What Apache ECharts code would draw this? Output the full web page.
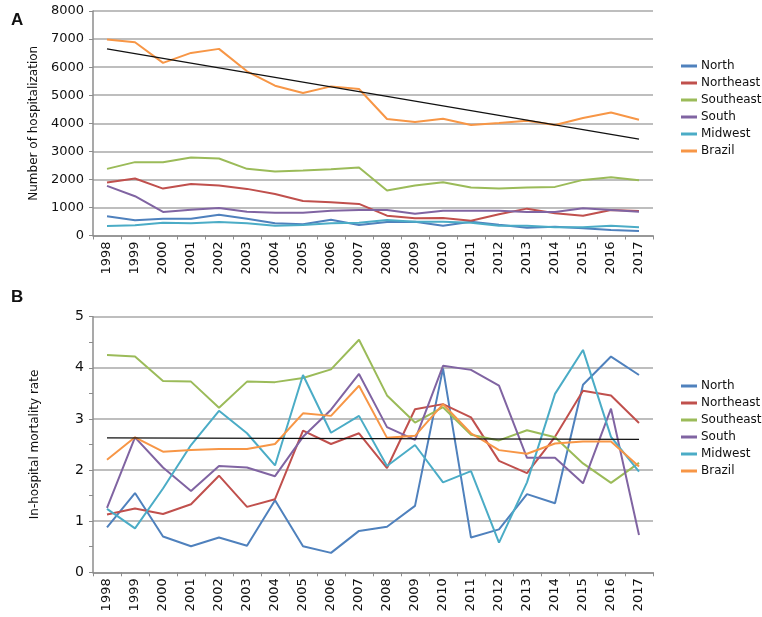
<!DOCTYPE html>
<html>
<head>
<meta charset="utf-8">
<script src="https://cdn.jsdelivr.net/npm/echarts@6/dist/echarts.min.js"></script>
<style>html,body{margin:0;padding:0;background:#fff}#c{width:762px;height:617px}</style>
</head>
<body>
<div id="c"></div>
<script>
const years = ['1998','1999','2000','2001','2002','2003','2004','2005','2006','2007','2008','2009','2010','2011','2012','2013','2014','2015','2016','2017'];
const seriesNames = ['North','Northeast','Southeast','South','Midwest','Brazil'];
const colors = ['#4F81BD','#C0504D','#9BBB59','#8064A2','#4BACC6','#F79646'];

// Panel A: number of hospitalizations
const hospNorth     = [686,543,600,600,743,600,436,400,564,375,482,486,350,493,380,279,314,257,196,161];
const hospNortheast = [1886,2029,1671,1839,1779,1661,1482,1232,1186,1125,707,614,625,529,757,957,793,707,911,875];
const hospSoutheast = [2375,2614,2614,2780,2743,2375,2280,2314,2364,2421,1600,1779,1900,1707,1671,1707,1732,1982,2079,1971];
const hospSouth     = [1768,1400,839,921,982,850,814,814,886,911,911,779,886,886,886,839,839,971,911,850];
const hospMidwest   = [339,364,457,436,482,436,350,375,436,457,554,493,493,457,350,350,293,293,350,293];
const hospBrazil    = [6982,6886,6150,6507,6650,5850,5339,5079,5314,5221,4150,4043,4161,3936,4007,4089,3936,4186,4386,4125];
const hospTrendEnds = [6650,3436];

// Panel B: in-hospital mortality rate
const mortNorth     = [0.88,1.55,0.70,0.51,0.68,0.52,1.41,0.51,0.38,0.81,0.89,1.30,3.99,0.68,0.84,1.53,1.35,3.67,4.22,3.86];
const mortNortheast = [1.13,1.25,1.14,1.33,1.89,1.28,1.43,2.77,2.51,2.72,2.04,3.19,3.29,3.03,2.18,1.94,2.65,3.55,3.46,2.92];
const mortSoutheast = [4.25,4.22,3.74,3.73,3.22,3.73,3.72,3.80,3.97,4.55,3.46,2.93,3.23,2.69,2.58,2.78,2.64,2.13,1.75,2.14];
const mortSouth     = [1.26,2.64,2.05,1.59,2.08,2.05,1.88,2.65,3.18,3.88,2.84,2.59,4.04,3.96,3.65,2.24,2.24,1.74,3.20,0.73];
const mortMidwest   = [1.24,0.86,1.64,2.49,3.16,2.72,2.09,3.86,2.73,3.06,2.08,2.49,1.76,1.98,0.58,1.76,3.49,4.35,2.65,1.97];
const mortBrazil    = [2.20,2.64,2.36,2.39,2.41,2.41,2.51,3.11,3.06,3.65,2.63,2.67,3.29,2.72,2.39,2.32,2.52,2.56,2.56,2.07];
const mortTrendEnds = [2.63,2.60];

const hospData = [hospNorth,hospNortheast,hospSoutheast,hospSouth,hospMidwest,hospBrazil];
const mortData = [mortNorth,mortNortheast,mortSoutheast,mortSouth,mortMidwest,mortBrazil];

const FONT = 'DejaVu Sans';
const gridColor = '#a8a8a8';
const axisColor = '#8c8c8c';

function xAxis(gi){
  return {
    type:'category', gridIndex:gi, data:years, boundaryGap:true,
    axisLine:{show:true,lineStyle:{color:axisColor,width:1.5}},
    axisTick:{show:true,length:4,lineStyle:{color:axisColor}},
    axisLabel:{rotate:90,margin:6,fontFamily:FONT,fontSize:13,color:'#111'},
    splitLine:{show:false}
  };
}
function lineSeries(name, data, i, gi){
  return {name:name,type:'line',xAxisIndex:gi,yAxisIndex:gi,data:data,symbol:'none',
    lineStyle:{width:2,color:colors[i]},itemStyle:{color:colors[i]},z:3,silent:true};
}
function trendSeries(ends, gi){
  return {type:'line',xAxisIndex:gi,yAxisIndex:gi,symbol:'none',
    data:[[years[0],ends[0]],[years[years.length-1],ends[1]]],
    lineStyle:{width:1.2,color:'#111'},z:4,silent:true};
}
const legendBase = {
  orient:'vertical', left:676, icon:'rect', itemWidth:16, itemHeight:3, itemGap:3,
  textStyle:{fontFamily:FONT,fontSize:12,color:'#111',lineHeight:14,padding:[0,0,0,-1]},
  data:seriesNames, selectedMode:false
};

const series = [];
seriesNames.forEach((n,i)=>series.push(lineSeries(n,hospData[i],i,0)));
series.push(trendSeries(hospTrendEnds,0));
seriesNames.forEach((n,i)=>series.push(lineSeries(n,mortData[i],i,1)));
series.push(trendSeries(mortTrendEnds,1));

const option = {
  animation:false,
  backgroundColor:'#fff',
  color:colors,
  title:[
    {text:'A',left:6,top:7,textStyle:{fontFamily:'Liberation Sans',fontWeight:'bold',fontSize:17,color:'#111'}},
    {text:'B',left:6,top:284,textStyle:{fontFamily:'Liberation Sans',fontWeight:'bold',fontSize:17,color:'#111'}}
  ],
  legend:[
    Object.assign({},legendBase,{top:54}),
    Object.assign({},legendBase,{top:374})
  ],
  grid:[
    {left:93,top:11,width:560,height:224.5},
    {left:93,top:316.7,width:560,height:255.6}
  ],
  xAxis:[xAxis(0),xAxis(1)],
  yAxis:[
    {type:'value',gridIndex:0,min:0,max:8000,interval:1000,
     name:'Number of hospitalization',nameLocation:'middle',nameGap:52,
     nameTextStyle:{fontFamily:FONT,fontSize:12,color:'#111'},
     axisLine:{show:true,lineStyle:{color:axisColor,width:1.5}},
     axisTick:{show:true,length:4,lineStyle:{color:axisColor}},
     axisLabel:{fontFamily:FONT,fontSize:13,color:'#111',margin:9,formatter:v=>String(v)},
     splitLine:{show:true,lineStyle:{color:gridColor,width:1.5}}},
    {type:'value',gridIndex:1,min:0,max:5,interval:1,
     name:'In-hospital mortality rate',nameLocation:'middle',nameGap:52,
     nameTextStyle:{fontFamily:FONT,fontSize:12,color:'#111'},
     axisLine:{show:true,lineStyle:{color:axisColor,width:1.5}},
     axisTick:{show:true,length:4,lineStyle:{color:axisColor}},
     minorTick:{show:true,splitNumber:2,length:4,lineStyle:{color:axisColor}},
     axisLabel:{fontFamily:FONT,fontSize:14,color:'#111',margin:9},
     splitLine:{show:true,lineStyle:{color:gridColor,width:1.5}}}
  ],
  series:series
};
const chart = echarts.init(document.getElementById('c'),null,{renderer:'canvas'});
chart.setOption(option);
</script>
</body>
</html>
